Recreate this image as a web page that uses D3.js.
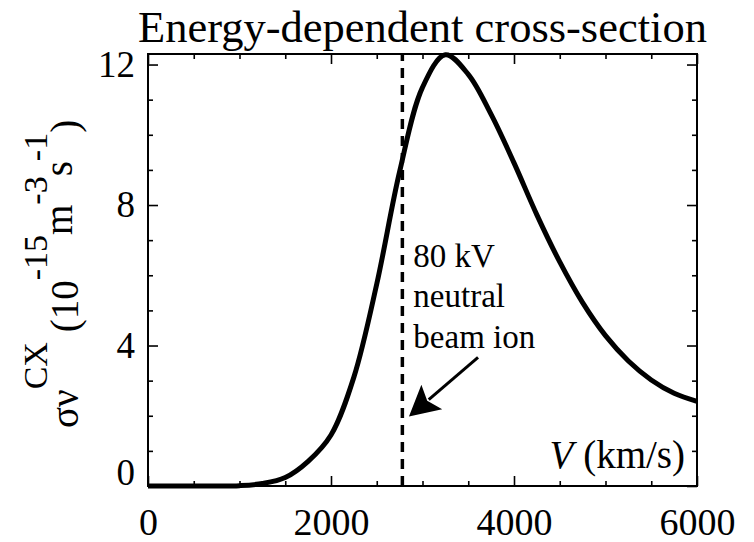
<!DOCTYPE html>
<html>
<head>
<meta charset="utf-8">
<script src="https://cdn.jsdelivr.net/npm/d3@7"></script>
<style>
  body { margin: 0; background: #fff; }
  svg text { font-family: "Liberation Serif", "Times New Roman", serif !important; fill: #000 !important; }
</style>
</head>
<body>
<script>
// ---- data ----
const velocity = [0, 250, 500, 750, 1000, 1250, 1500, 1750, 2000, 2250, 2500, 2750, 3000, 3250, 3500, 3750, 4000, 4250, 4500, 4750, 5000, 5250, 5500, 5750, 6000];
const sigmaV   = [0, 0, 0, 0, 0.01, 0.07, 0.24, 0.70, 1.45, 3.10, 5.75, 8.95, 11.35, 12.28, 11.72, 10.58, 9.20, 7.72, 6.38, 5.22, 4.28, 3.56, 3.02, 2.64, 2.41];
const xMajorTicks = [0, 2000, 4000, 6000];
const xMinorTicks = [500, 1000, 1500, 2500, 3000, 3500, 4500, 5000, 5500];
const yMajorTicks = [0, 4, 8, 12];
const yMinorTicks = [1, 2, 3, 5, 6, 7, 9, 10, 11];
const beamVelocity = 2780;
const annotationLines = ["80 kV", "neutral", "beam ion"];
const arrowFrom = [3607, 3.66];
const arrowTo = [2852, 1.98];

(function () {
const FONT = '"Liberation Serif", "Times New Roman", serif';
const W = 754, H = 542;
const pL = 148, pR = 697, pT = 54, pB = 486;

const svg = d3.select("body").append("svg").attr("width", W).attr("height", H)
  .style("font-family", FONT);

const x = d3.scaleLinear().domain([0, 6000]).range([pL, pR]);
const y = d3.scaleLinear().domain([0, 12.3]).range([pB, pT]);

function styleAxis(g) {
  g.attr("font-family", null);
  g.select(".domain").remove();
  g.selectAll(".tick line").attr("stroke", "#000").attr("stroke-width", 1.6);
  g.selectAll("text").style("font-family", FONT).attr("fill", "#000");
}

svg.append("g").attr("transform", `translate(0,${pB})`)
  .call(d3.axisBottom(x).tickValues(xMajorTicks).tickSize(-10).tickPadding(22).tickFormat(d3.format("d")))
  .call(styleAxis).selectAll("text").attr("font-size", 38);
svg.append("g").attr("transform", `translate(0,${pB})`)
  .call(d3.axisBottom(x).tickValues(xMinorTicks).tickSize(-5).tickFormat(""))
  .call(styleAxis);
svg.append("g").attr("transform", `translate(0,${pT})`)
  .call(d3.axisTop(x).tickValues(xMajorTicks).tickSize(-10).tickFormat(""))
  .call(styleAxis);
svg.append("g").attr("transform", `translate(0,${pT})`)
  .call(d3.axisTop(x).tickValues(xMinorTicks).tickSize(-5).tickFormat(""))
  .call(styleAxis);

const yAxisG = svg.append("g").attr("transform", `translate(${pL},0)`)
  .call(d3.axisLeft(y).tickValues(yMajorTicks).tickSize(-10).tickPadding(13).tickFormat(d3.format("d")))
  .call(styleAxis);
yAxisG.selectAll("text").attr("font-size", 37)
  .attr("dy", d => d === 0 ? "-0.03em" : "0.32em");
svg.append("g").attr("transform", `translate(${pL},0)`)
  .call(d3.axisLeft(y).tickValues(yMinorTicks).tickSize(-5).tickFormat(""))
  .call(styleAxis);
svg.append("g").attr("transform", `translate(${pR},0)`)
  .call(d3.axisRight(y).tickValues(yMajorTicks).tickSize(-10).tickFormat(""))
  .call(styleAxis);
svg.append("g").attr("transform", `translate(${pR},0)`)
  .call(d3.axisRight(y).tickValues(yMinorTicks).tickSize(-5).tickFormat(""))
  .call(styleAxis);

// frame
svg.append("rect").attr("x", pL).attr("y", pT)
  .attr("width", pR - pL).attr("height", pB - pT)
  .attr("fill", "none").attr("stroke", "#000").attr("stroke-width", 2);

// dashed beam velocity line
svg.append("line")
  .attr("x1", x(beamVelocity)).attr("x2", x(beamVelocity))
  .attr("y1", y(0)).attr("y2", y(12.3))
  .attr("stroke", "#000").attr("stroke-width", 3.5)
  .attr("stroke-dasharray", "10,7");

// curve
const pts = velocity.map((v, i) => [v, sigmaV[i]]);
const line = d3.line().x(d => x(d[0])).y(d => y(d[1])).curve(d3.curveCatmullRom.alpha(0.5));
svg.append("path").datum(pts).attr("d", line)
  .attr("fill", "none").attr("stroke", "#000").attr("stroke-width", 5)
  .attr("stroke-linejoin", "round");

// annotation text
const ann = svg.append("text").attr("font-size", 33)
  .attr("x", x(2900)).attr("y", y(6.24));
annotationLines.forEach((t, i) => {
  ann.append("tspan").attr("x", x(2900)).attr("dy", i === 0 ? 0 : 40.5).text(t);
});

// arrow
const ax0 = x(arrowFrom[0]), ay0 = y(arrowFrom[1]);
const ax1 = x(arrowTo[0]), ay1 = y(arrowTo[1]);
const len = Math.hypot(ax1 - ax0, ay1 - ay0);
const ux = (ax1 - ax0) / len, uy = (ay1 - ay0) / len;
const headLen = 30, headHalf = 16;
const bx = ax1 - ux * headLen, by = ay1 - uy * headLen;
svg.append("line").attr("x1", ax0).attr("y1", ay0).attr("x2", bx + ux * 4).attr("y2", by + uy * 4)
  .attr("stroke", "#000").attr("stroke-width", 3);
svg.append("path")
  .attr("d", `M${ax1},${ay1}L${bx - uy * headHalf},${by + ux * headHalf}L${bx + ux * 6},${by + uy * 6}L${bx + uy * headHalf},${by - ux * headHalf}Z`)
  .attr("fill", "#000");

// x-axis label inside plot
const xl = svg.append("text").attr("font-size", 39).attr("text-anchor", "end")
  .attr("x", pR - 12).attr("y", pB - 18);
xl.append("tspan").attr("font-style", "italic").text("V");
xl.append("tspan").text(" (km/s)");

// title
svg.append("text").attr("font-size", 44.5).attr("text-anchor", "middle")
  .attr("x", (pL + pR) / 2).attr("y", 42)
  .text("Energy-dependent cross-section");

// y-axis label (rotated, with superscripts)
const yl = svg.append("text").attr("transform", "translate(78,428) rotate(-90)")
  .attr("font-size", 39);
yl.append("tspan").text("σν");
yl.append("tspan").attr("font-size", 34).attr("dy", -31).text("CX");
yl.append("tspan").attr("dy", 31).text(" (10");
yl.append("tspan").attr("font-size", 34).attr("dy", -31).text("-15");
yl.append("tspan").attr("dy", 25).text("m");
yl.append("tspan").attr("font-size", 34).attr("dy", -25).text("-3");
yl.append("tspan").attr("dy", 25).text("s");
yl.append("tspan").attr("font-size", 34).attr("dy", -25).text("-1");
yl.append("tspan").attr("dy", 31).text(")");
})();
</script>
</body>
</html>
